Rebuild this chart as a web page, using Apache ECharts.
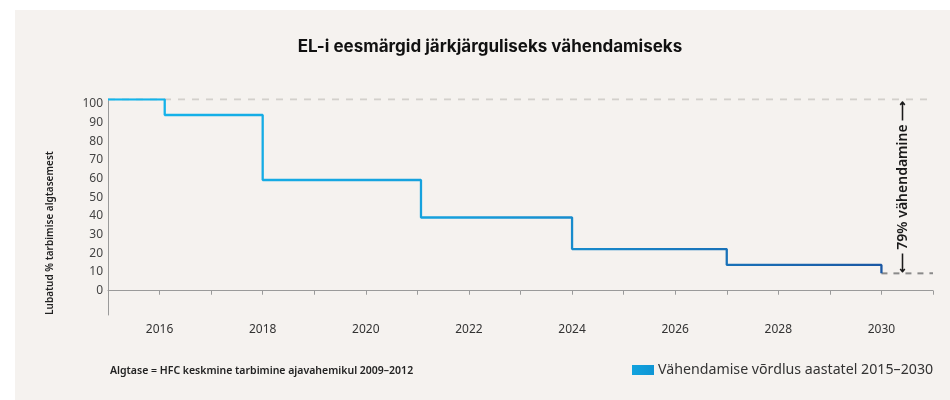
<!DOCTYPE html>
<html>
<head>
<meta charset="utf-8">
<script src="https://cdn.jsdelivr.net/npm/echarts@6/dist/echarts.min.js"></script>
<style>
html,body{margin:0;padding:0;background:#fff;}
#c{width:950px;height:400px;}
</style>
</head>
<body>
<div id="c"></div>
<script>
// Step years and allowed % values (as drawn)
const stepYears = [2015, 2016.1, 2018, 2021.07, 2024, 2027, 2030];
const stepValues = [102.5, 94.1, 59.3, 39.2, 22.3, 13.8, 9.3];
const baselineValue = 102.5;
const targetValue = 9.3;
const yTickLabels = [0, 10, 20, 30, 40, 50, 60, 70, 80, 90, 100];
const xLabelYears = [2016, 2018, 2020, 2022, 2024, 2026, 2028, 2030];

const titleText = 'EL-i eesmärgid järkjärguliseks vähendamiseks';
const yAxisTitle = 'Lubatud % tarbimise algtasemest';
const noteText = 'Algtase = HFC keskmine tarbimine ajavahemikul 2009–2012';
const legendText = 'Vähendamise võrdlus aastatel 2015–2030';
const reductionText = '⟵ 79% vähendamine ⟶';

const chart = echarts.init(document.getElementById('c'), null, {renderer: 'canvas'});

const lineData = stepYears.map((y, i) => [y, stepValues[i]]);

chart.setOption({
  backgroundColor: '#ffffff',
  animation: false,
  grid: {left: 108, right: 17, top: 99.3, bottom: 85},
  xAxis: {
    type: 'value', min: 2015, max: 2031, interval: 1,
    axisLine: {show: true, lineStyle: {color: '#9a9a9a', width: 1}},
    axisTick: {show: true, length: 4, lineStyle: {color: '#9a9a9a'}},
    splitLine: {show: false},
    axisLabel: {
      margin: 9, color: '#333', fontSize: 12, fontFamily: 'Noto Sans',
      formatter: v => xLabelYears.indexOf(v) >= 0 ? String(v) : ''
    }
  },
  yAxis: {
    type: 'value', min: -13, max: 102.5,
    axisLine: {show: true, lineStyle: {color: '#9a9a9a', width: 1}},
    axisTick: {show: false},
    splitLine: {show: false},
    axisLabel: {
      customValues: yTickLabels, margin: 5, color: '#444', fontSize: 12, fontFamily: 'Noto Sans'
    }
  },
  series: [
    {
      type: 'line', silent: true, symbol: 'none', z: 1,
      data: [[2015, baselineValue], [2031, baselineValue]],
      lineStyle: {color: '#d3d0cc', width: 2, type: [7, 7]}
    },
    {
      type: 'line', silent: true, symbol: 'none', z: 1,
      data: [[2030, targetValue], [2031, targetValue]],
      lineStyle: {color: '#8a8a8a', width: 2, type: [6, 6]}
    },
    {
      type: 'line', step: 'end', symbol: 'none', silent: true, z: 3,
      data: lineData,
      lineStyle: {
        width: 2.3,
        color: new echarts.graphic.LinearGradient(0, 0, 1, 0, [
          {offset: 0, color: '#14b6ec'},
          {offset: 0.45, color: '#169fdc'},
          {offset: 1, color: '#1a57a3'}
        ])
      }
    }
  ],
  graphic: [
    {type: 'rect', z: -100, silent: true, shape: {x: 15, y: 10, width: 935, height: 390}, style: {fill: '#f5f2ef'}},
    {type: 'text', x: 490, y: 47, style: {text: titleText, fontSize: 17, fontWeight: 'bold', fontFamily: 'Inter', fill: '#111', align: 'center', verticalAlign: 'middle'}},
    {type: 'text', x: 50, y: 233, rotation: Math.PI / 2, style: {text: yAxisTitle, fontSize: 10, fontWeight: 600, fontFamily: 'Noto Sans', fill: '#222', align: 'center', verticalAlign: 'middle'}},
    {type: 'text', x: 903, y: 187, rotation: Math.PI / 2, style: {text: reductionText, fontSize: 14, fontWeight: 600, fontFamily: 'Noto Sans', fill: '#1a1a1a', align: 'center', verticalAlign: 'middle'}},
    {type: 'text', x: 110, y: 371, style: {text: noteText, fontSize: 10.5, fontWeight: 600, fontFamily: 'Noto Sans', fill: '#222', align: 'left', verticalAlign: 'middle'}},
    {type: 'rect', shape: {x: 632, y: 365, width: 22, height: 10}, style: {fill: new echarts.graphic.LinearGradient(0, 0, 1, 0, [{offset: 0, color: '#12a3de'}, {offset: 1, color: '#0f95d4'}])}},
    {type: 'text', x: 658, y: 370, style: {text: legendText, fontSize: 14.2, fontFamily: 'Noto Sans', fill: '#333', align: 'left', verticalAlign: 'middle'}}
  ]
});
</script>
</body>
</html>
